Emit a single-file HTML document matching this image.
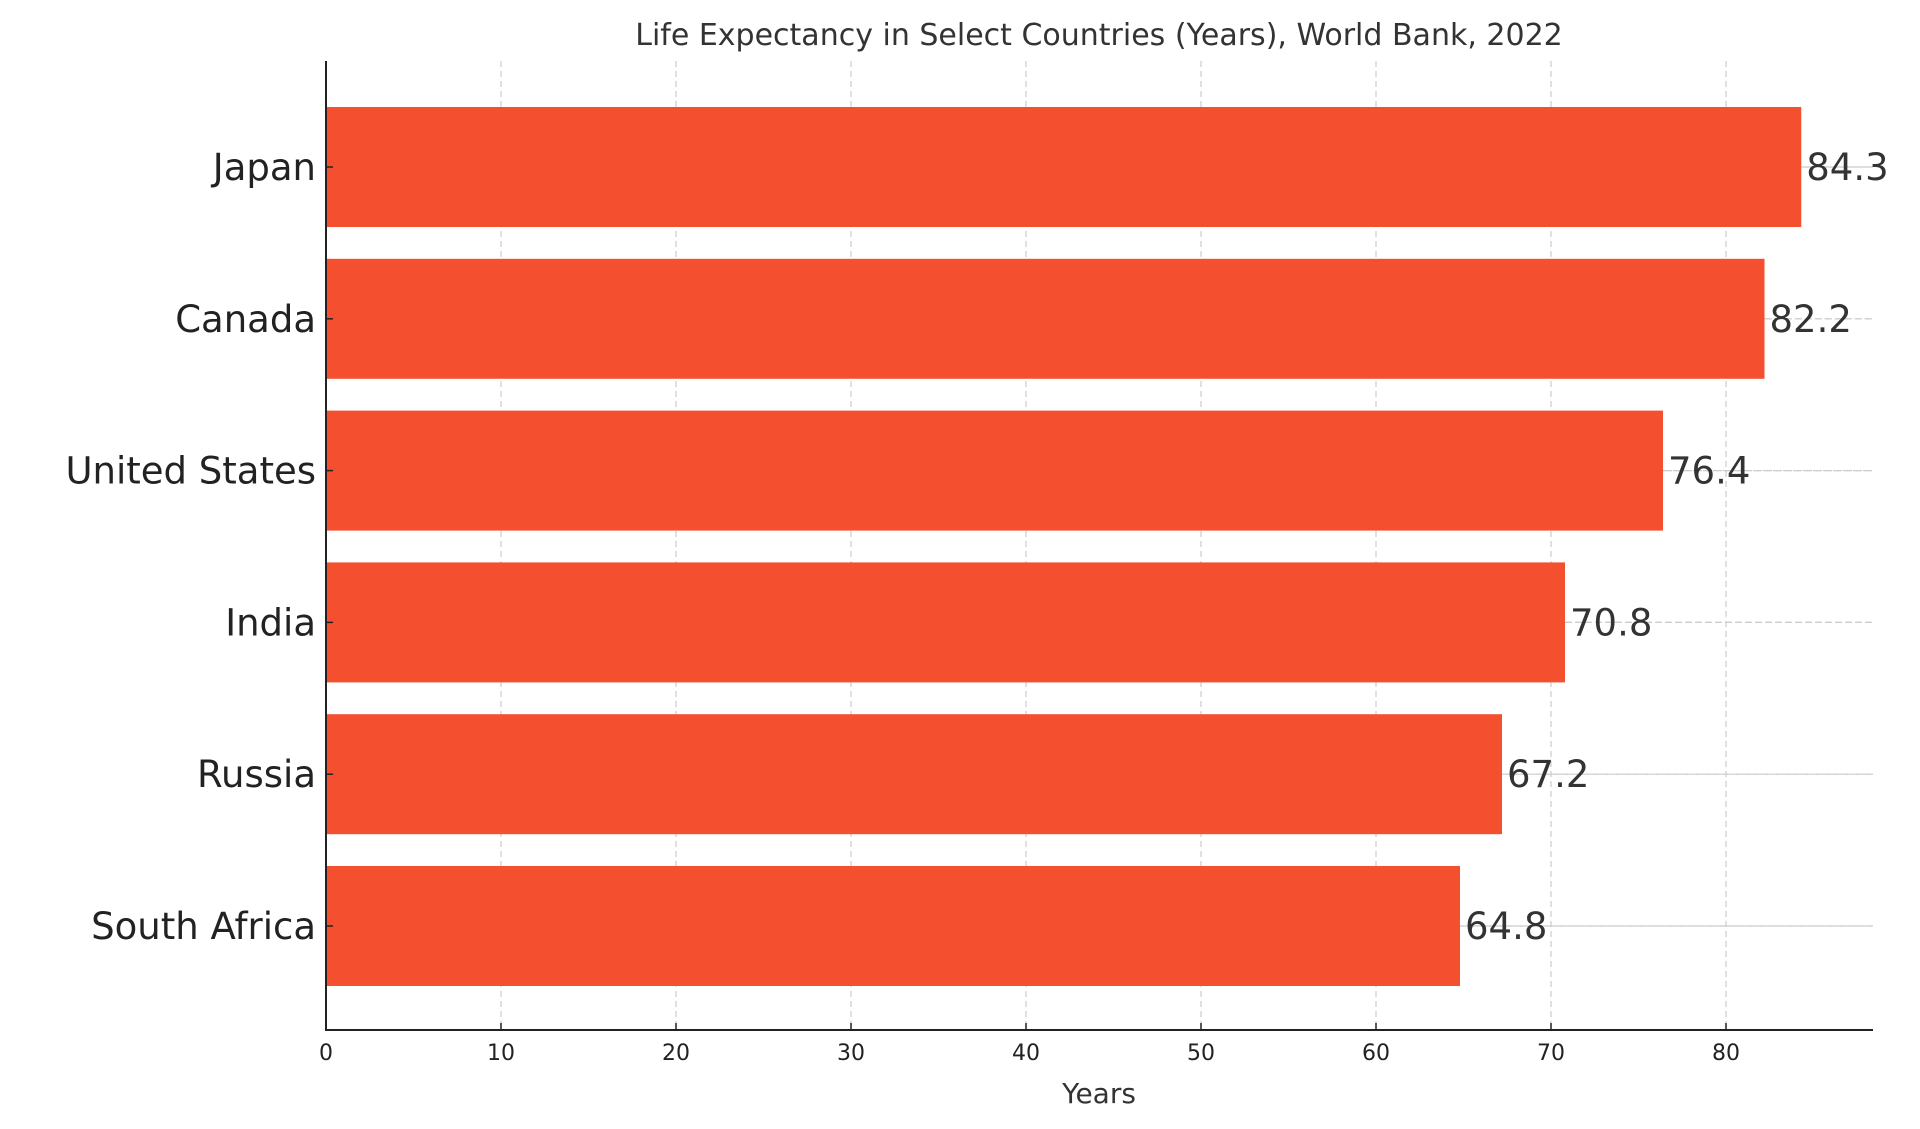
<!DOCTYPE html>
<html><head><meta charset="utf-8"><style>
body{margin:0;background:#fff;}
svg{display:block;font-family:"DejaVu Sans","Liberation Sans",sans-serif;}
</style></head><body>
<svg id="chart" width="1920" height="1129" viewBox="0 0 1920 1129">
<text x="1099" y="45" font-size="30" fill="#333" text-anchor="middle">Life Expectancy in Select Countries (Years), World Bank, 2022</text>
<g id="grid"></g><g id="bars"></g><g id="axes"></g>
<text x="1099" y="1103" font-size="28" fill="#333" text-anchor="middle">Years</text>
</svg>
<script>
const categories=["Japan","Canada","United States","India","Russia","South Africa"];
const values=[84.3,82.2,76.4,70.8,67.2,64.8];
const ticks=[0,10,20,30,40,50,60,70,80];
const X0=326,PX=17.5,TOP=61,BOT=1030,RIGHT=1873,Y0=167,STEP=151.8,BH=120;
const xs=v=>X0+v*PX, ys=i=>Y0+i*STEP;
const NS="http://www.w3.org/2000/svg";
function mk(t,a,p){const e=document.createElementNS(NS,t);for(const k in a)e.setAttribute(k,a[k]);p.appendChild(e);return e;}
const grid=document.getElementById('grid'),bars=document.getElementById('bars'),axes=document.getElementById('axes');
ticks.forEach(t=>{
 const l=mk('line',{x1:xs(t),x2:xs(t),y1:TOP,y2:BOT,stroke:'#ccc','stroke-width':1.2,'stroke-dasharray':'6,4'},grid);
 
 
 const tk=mk('line',{x1:xs(t),x2:xs(t),y1:BOT,y2:BOT-7,stroke:'#222','stroke-width':1.5},axes);
 
 
 const tx=mk('text',{x:xs(t),y:BOT+30,'font-size':22,fill:'#222','text-anchor':'middle'},axes);
 tx.textContent=t;
 
 
});
categories.forEach((c,i)=>{
 const y=ys(i);
 const g=mk('line',{x1:X0,x2:RIGHT,y1:y,y2:y,stroke:'#ccc','stroke-width':1.2,'stroke-dasharray':'6,4'},grid);
 
 
 const r=mk('rect',{x:X0,y:y-BH/2,width:xs(values[i])-X0,height:BH,fill:'#f44f2f'},bars);
 
 
 const gl=mk('line',{x1:xs(values[i]),x2:RIGHT,y1:y,y2:y,stroke:'#ccc','stroke-width':1.2,'stroke-dasharray':'6,4'},bars);
 
 
 const v=mk('text',{x:xs(values[i])+5,y:y+13,'font-size':37,fill:'#333'},bars);
 v.textContent=values[i].toFixed(1);
 
 
 const tk=mk('line',{x1:X0,x2:X0+7,y1:y,y2:y,stroke:'#222','stroke-width':1.5},axes);
 
 
 const lb=mk('text',{x:X0-10,y:y+13,'font-size':37,fill:'#222','text-anchor':'end'},axes);
 lb.textContent=c;
 
 
});
const ya=mk('line',{x1:X0,x2:X0,y1:TOP,y2:BOT,stroke:'#222','stroke-width':2},axes);


const xa=mk('line',{x1:X0-1,x2:RIGHT,y1:BOT,y2:BOT,stroke:'#222','stroke-width':2},axes);


</script>
</body></html>
